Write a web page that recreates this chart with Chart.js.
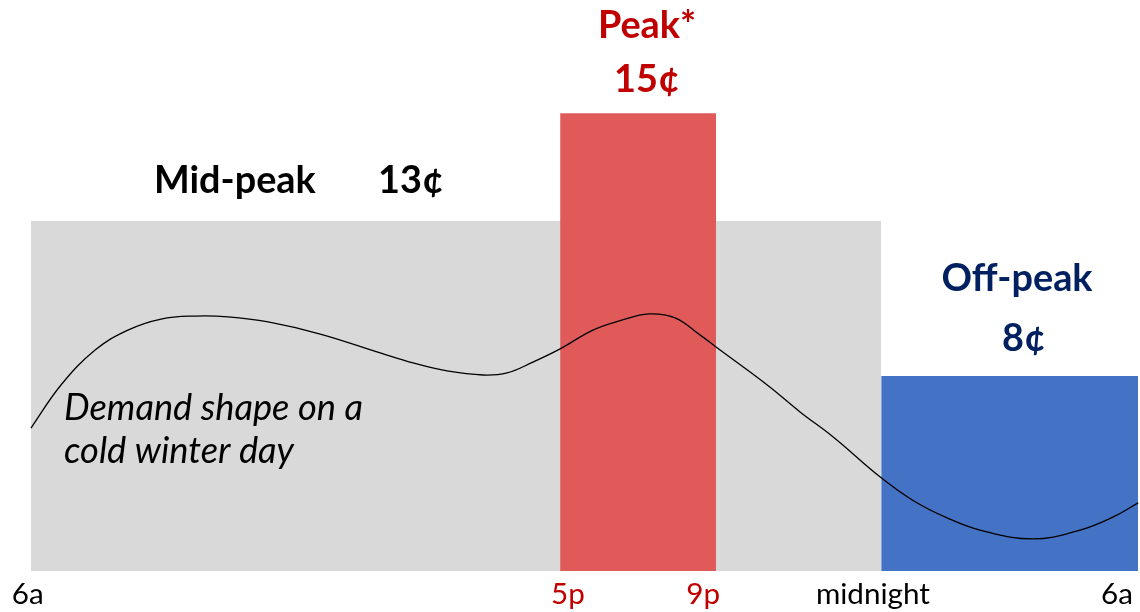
<!DOCTYPE html>
<html><head><meta charset="utf-8">
<script src="https://cdn.jsdelivr.net/npm/chart.js@4.4.1/dist/chart.umd.min.js"></script>
<style>html,body{margin:0;padding:0;background:#fff;overflow:hidden}#wrap{width:1140px;height:612px}</style>
</head><body><div id="wrap"><canvas id="c" width="1140" height="612"></canvas></div>
<script>
// x values are hours after 6a, y values are relative levels
const demandHours = [0, 0.65, 1.39, 2.10, 2.82, 3.56, 4.27, 5.14, 6.27, 7.57, 8.28, 9.02, 9.80, 10.32, 10.88, 11.47, 12.18, 12.77, 13.40, 13.96, 14.50, 14.85, 15.96, 16.67, 17.39, 18.41, 19.12, 19.86, 20.57, 21.72, 22.74, 23.46, 24];
const demandLevel = [5.31, 6.91, 8.21, 8.95, 9.36, 9.47, 9.44, 9.25, 8.80, 8.10, 7.73, 7.43, 7.28, 7.36, 7.76, 8.25, 8.95, 9.30, 9.55, 9.40, 8.77, 8.32, 6.91, 5.91, 4.98, 3.49, 2.62, 1.97, 1.52, 1.19, 1.52, 2.01, 2.53];
const periodNames = ['Mid-peak', 'Peak*', 'Off-peak'];
const periodPrices = ['13¢', '15¢', '8¢'];
const periodStart = [0, 11.47, 18.43];
const periodEnd = [18.43, 14.85, 24];
const periodHeight = [13, 17.0, 7.24];
const tickLabels = ['6a', '5p', '9p', 'midnight', '6a'];
const tickHours = [-0.07, 11.64, 14.57, 18.25, 23.54];
const demandNote = ['Demand shape on a', 'cold winter day'];

const periodColors = ['#D9D9D9', '#E05A5A', '#4472C4'];
const tickColors = ['#000000', '#C00000', '#C00000', '#000000', '#000000'];
const FAMILY = 'Lato';

function fitSize(text, weight, style, target) {
  const c = document.createElement('canvas').getContext('2d');
  c.font = `${style} ${weight} 100px ${FAMILY}`;
  return 100 * target / c.measureText(text).width;
}

function build() {
  const tickSize = fitSize('midnight', 'normal', 'normal', 114);
  const boldSize = (fitSize(periodNames[0], 'bold', 'normal', 162) + fitSize(periodNames[2], 'bold', 'normal', 151)) / 2;
  const italSize = fitSize(demandNote[0], 'normal', 'italic', 299);

  const annotations = [
    {text: periodNames[1], x: 647, y: 38, align: 'center', style: 'normal', weight: 'bold', size: boldSize, color: '#C00000'},
    {text: periodPrices[1], x: 647, y: 92, align: 'center', style: 'normal', weight: 'bold', size: boldSize, color: '#C00000'},
    {text: periodNames[0], x: 154, y: 193, align: 'left', style: 'normal', weight: 'bold', size: boldSize, color: '#000000'},
    {text: periodPrices[0], x: 378, y: 193, align: 'left', style: 'normal', weight: 'bold', size: boldSize, color: '#000000'},
    {text: periodNames[2], x: 1017, y: 291, align: 'center', style: 'normal', weight: 'bold', size: boldSize, color: '#002060'},
    {text: periodPrices[2], x: 1024, y: 351, align: 'center', style: 'normal', weight: 'bold', size: boldSize, color: '#002060'},
    {text: demandNote[0], x: 64, y: 420, align: 'left', style: 'italic', weight: 'normal', size: italSize, color: '#000000'},
    {text: demandNote[1], x: 64, y: 463, align: 'left', style: 'italic', weight: 'normal', size: italSize, color: '#000000'}
  ];

  const textPlugin = {
    id: 'textLabels',
    afterDatasetsDraw(chart) {
      const ctx = chart.ctx;
      ctx.save();
      ctx.textBaseline = 'alphabetic';
      annotations.forEach(a => {
        ctx.font = `${a.style} ${a.weight} ${a.size}px ${FAMILY}`;
        ctx.fillStyle = a.color;
        ctx.textAlign = a.align;
        ctx.fillText(a.text, a.x, a.y);
      });
      ctx.restore();
    }
  };

  const datasets = [{
    label: 'Demand',
    data: demandHours.map((h, i) => ({x: h, y: demandLevel[i]})),
    borderColor: '#000000', borderWidth: 1.3, pointRadius: 0,
    tension: 0.4, fill: false, order: 0
  }];
  periodNames.forEach((n, i) => datasets.push({
    label: n,
    data: [{x: periodStart[i], y: periodHeight[i]}, {x: periodEnd[i], y: periodHeight[i]}],
    backgroundColor: periodColors[i], borderColor: 'rgba(0,0,0,0)', borderWidth: 0,
    pointRadius: 0, fill: 'origin', tension: 0, order: i === 0 ? 3 : 2
  }));

  new Chart(document.getElementById('c'), {
    type: 'line',
    data: {datasets},
    options: {
      responsive: false, animation: false,
      layout: {padding: 0},
      plugins: {legend: {display: false}, tooltip: {enabled: false}},
      scales: {
        x: {
          type: 'linear', min: -0.672, max: 24.04,
          grid: {display: false, drawTicks: false}, border: {display: false},
          afterBuildTicks: s => { s.ticks = tickHours.map(v => ({value: v})); },
          afterFit: s => { s.height = 41; },
          ticks: {
            autoSkip: false, maxRotation: 0, padding: 6,
            font: {family: FAMILY, size: tickSize},
            color: c => tickColors[c.index],
            callback: (v, i) => tickLabels[i]
          }
        },
        y: {display: false, min: 0, max: 21.21}
      }
    },
    plugins: [textPlugin]
  });
}

Promise.all([
  document.fonts.load(`normal 20px ${FAMILY}`),
  document.fonts.load(`bold 20px ${FAMILY}`),
  document.fonts.load(`italic 20px ${FAMILY}`)
]).then(build, build);
</script></body></html>
